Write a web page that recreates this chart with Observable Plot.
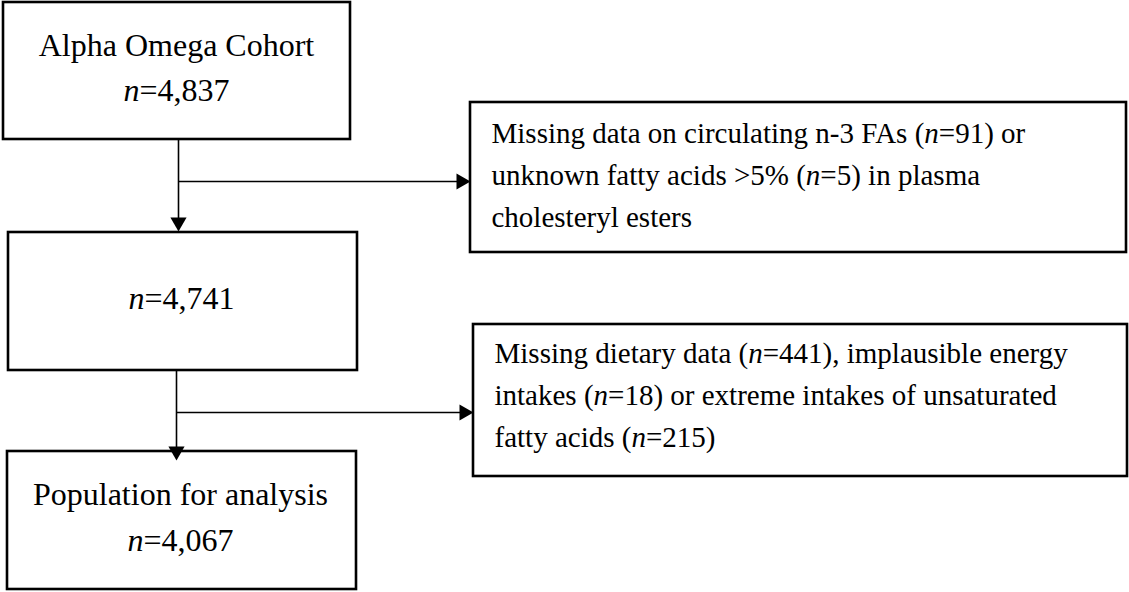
<!DOCTYPE html>
<html><head><meta charset="utf-8">
<script src="https://cdn.jsdelivr.net/npm/d3@7"></script>
<script src="https://cdn.jsdelivr.net/npm/@observablehq/plot@0.6"></script>
<style>
html,body{margin:0;padding:0;background:#fff;}
#chart svg{display:block;}
</style>
</head><body><div id="chart"></div>
<script>
// ---- Data ----
const stageTitles = ["Alpha Omega Cohort", "", "Population for analysis"];
const stageCounts = ["4,837", "4,741", "4,067"];
const exclusionLines1 = ["Missing data on circulating n-3 FAs (n=91) or", "unknown fatty acids >5% (n=5) in plasma", "cholesteryl esters"];
const exclusionLines2 = ["Missing dietary data (n=441), implausible energy", "intakes (n=18) or extreme intakes of unsaturated", "fatty acids (n=215)"];

// ---- Layout (chart units) ----
const W = 1129, H = 592;
const stageBoxes = [
  {x1: 3, x2: 350, y1: 2, y2: 139},
  {x1: 8, x2: 357, y1: 232, y2: 370},
  {x1: 7, x2: 356, y1: 451, y2: 589}
];
const exclusionBoxes = [
  {x1: 470, x2: 1126, y1: 102, y2: 252},
  {x1: 473, x2: 1127, y1: 324, y2: 476}
];
const stageTextX = [176, 181, 180];
const stageTitleY = [55, null, 504];
const stageCountY = [100, 308, 550];
const exclusionTextX = [491, 494];
const exclusionFirstBaseline = [142, 362];
const exclusionLineStep = 42;
const spineX = [178, 176];
const branchY = [181, 412];
const headLen = 14;

// ---- Build mark tables ----
const stageText = [];
stageTitles.forEach((t, i) => {
  if (t) stageText.push({x: stageTextX[i], y: stageTitleY[i], text: t});
  stageText.push({x: stageTextX[i], y: stageCountY[i], text: "n=" + stageCounts[i]});
});
const exclText = [];
[exclusionLines1, exclusionLines2].forEach((lines, k) => {
  lines.forEach((l, j) => exclText.push({x: exclusionTextX[k], y: exclusionFirstBaseline[k] + j * exclusionLineStep, text: l}));
});
const segments = [];
const heads = [];
const tipOff = headLen * 2 / 3; // centroid to tip distance of triangle
[0, 1].forEach(k => {
  const top = stageBoxes[k].y2;
  const tipY = stageBoxes[k + 1].y1 + (k === 0 ? -1 : 9);
  segments.push({x1: spineX[k], y1: top, x2: spineX[k], y2: tipY - headLen + 1});
  const tipX = exclusionBoxes[k].x1;
  segments.push({x1: spineX[k], y1: branchY[k], x2: tipX - headLen + 1, y2: branchY[k]});
  heads.push({x: spineX[k], y: tipY - tipOff, rot: 180});
  heads.push({x: tipX - tipOff, y: branchY[k], rot: 90});
});
// d3 symbolTriangle: height = 3*|y|, size = 3*sqrt3*y^2 ; Plot size = pi*r^2
const yy = headLen / 3;
const headR = Math.sqrt(3 * Math.sqrt(3) * yy * yy / Math.PI);

const font = "'Liberation Serif', 'Times New Roman', serif";
const chart = Plot.plot({
  width: W, height: H, margin: 0,
  x: {domain: [0, W], axis: null},
  y: {domain: [0, H], reverse: true, axis: null},
  marks: [
    Plot.link(segments, {x1: "x1", y1: "y1", x2: "x2", y2: "y2", stroke: "black", strokeWidth: 1.6}),
    Plot.rect(stageBoxes, {x1: "x1", x2: "x2", y1: "y1", y2: "y2", fill: "white", stroke: "black", strokeWidth: 2.6}),
    Plot.rect(exclusionBoxes, {x1: "x1", x2: "x2", y1: "y1", y2: "y2", fill: "white", stroke: "black", strokeWidth: 2.6}),
    Plot.dot(heads, {x: "x", y: "y", rotate: "rot", symbol: "triangle", r: headR, fill: "black", stroke: "none"}),
    Plot.text(stageText, {x: "x", y: "y", text: "text", textAnchor: "middle", lineAnchor: "bottom", fontSize: 32, fontFamily: font, fill: "black"}),
    Plot.text(exclText, {x: "x", y: "y", text: "text", textAnchor: "start", lineAnchor: "bottom", fontSize: 29, fontFamily: font, fill: "black"})
  ]
});
// italicize the statistical "n"
chart.querySelectorAll("text").forEach(t => {
  const s = t.textContent;
  if (!/\bn=/.test(s)) return;
  const parts = s.split(/(\bn(?==))/);
  t.textContent = "";
  for (const p of parts) {
    if (!p) continue;
    const ts = document.createElementNS("http://www.w3.org/2000/svg", "tspan");
    ts.textContent = p;
    if (p === "n") ts.setAttribute("font-style", "italic");
    t.appendChild(ts);
  }
});
document.getElementById("chart").appendChild(chart);
</script>
</body></html>
